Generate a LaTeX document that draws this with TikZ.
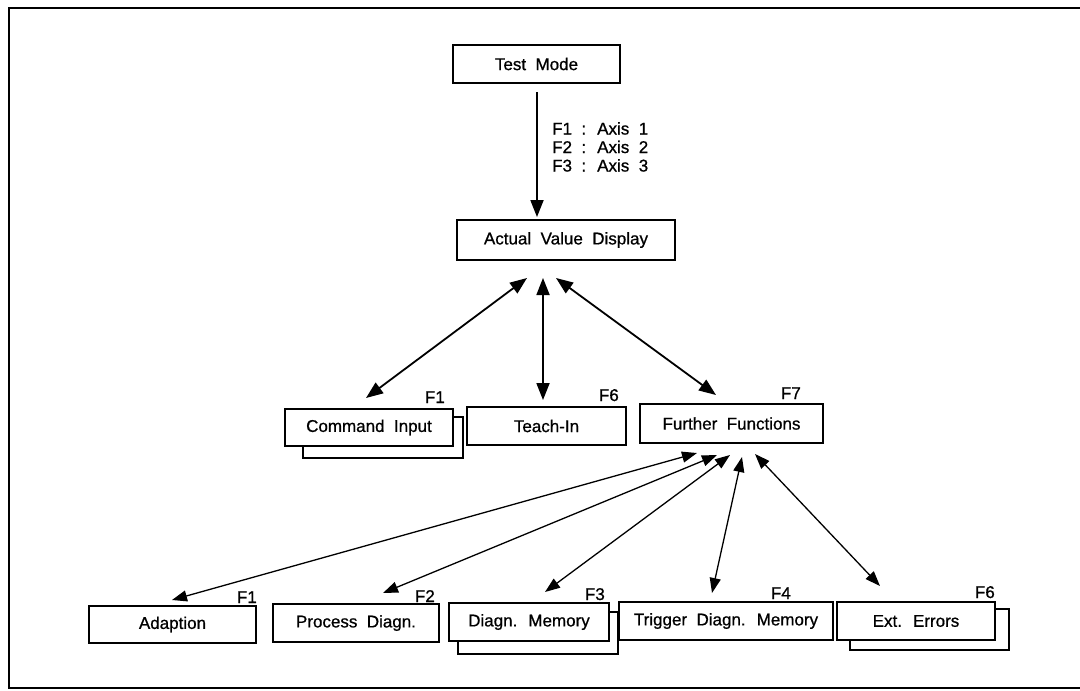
\documentclass[tikz,border=0pt]{standalone}
\usepackage{fontspec}
\setmainfont[WordSpace=2,FakeBold=0.8]{Liberation Sans}
\usetikzlibrary{arrows.meta}
\begin{document}
\begin{tikzpicture}[x=1pt,y=-1pt,
  txt/.style={font=\fontsize{17}{18.5}\selectfont},
  box/.style={txt,draw,line width=1.7pt,inner sep=0pt},
  fk/.style={txt,anchor=base east,inner sep=0pt},
  shad/.style={draw,line width=1.7pt,line join=miter},
  big/.style={line width=1.8pt,{Triangle[length=17pt,width=13pt]}-{Triangle[length=17pt,width=13pt]}},
  one/.style={line width=1.8pt,-{Triangle[length=17pt,width=13pt]}},
  small/.style={line width=1.3pt,{Triangle[length=15pt,width=11pt]}-{Triangle[length=15pt,width=11pt]}}]
\useasboundingbox (0,0) rectangle (1080,691);
\draw[line width=2.2pt] (1085,8) -- (9,8) -- (9,688) -- (1085,688);

% boxes
\node[box,minimum width=167pt,minimum height=38pt] (tm) at (536.5,64) {Test Mode};
\node[box,minimum width=218pt,minimum height=40pt] (avd) at (566,240) {Actual Value Display};
\node[box,minimum width=168pt,minimum height=37pt] (ci) at (369,427.5) {Command Input};
\node[box,minimum width=159pt,minimum height=38pt] (ti) at (546.5,426) {Teach-In};
\node[box,minimum width=183pt,minimum height=39pt] (ff) at (731.5,423.5) {Further Functions};
\node[box,minimum width=167pt,minimum height=37pt] (ad) at (172.5,624.5) {Adaption};
\node[box,minimum width=166pt,minimum height=38pt] (pd) at (356,623) {Process Diagn.};
\node[box,minimum width=160pt,minimum height=38pt] (dm) at (529,622) {Diagn. Memory};
\node[box,minimum width=214pt,minimum height=38pt] (tdm) at (726,621) {Trigger Diagn. Memory};
\node[box,minimum width=158pt,minimum height=38pt] (ee) at (916,621) {Ext. Errors};

% shadows
\draw[shad] ([yshift=-9pt]ci.north east) -| ([xshift=9pt,yshift=-11pt]ci.south east) -| ([xshift=19pt]ci.south west);
\draw[shad] ([yshift=-10pt]dm.north east) -| ([xshift=8pt,yshift=-12pt]dm.south east) -| ([xshift=10pt]dm.south west);
\draw[shad] ([yshift=-8pt]ee.north east) -| ([xshift=13pt,yshift=-9pt]ee.south east) -| ([xshift=14pt]ee.south west);

% function key labels
\node[fk] (kci) at (445,403) {F1};
\node[fk] (kti) at (619,401) {F6};
\node[fk] (kff) at (801,399) {F7};
\node[fk] (kad) at (257,603) {F1};
\node[fk] (kpd) at (435,602) {F2};
\node[fk] (kdm) at (605,600) {F3};
\node[fk] (ktdm) at (791,599) {F4};
\node[fk] (kee) at (995,598) {F6};

% axis label
\node[txt,anchor=north west,align=left,inner sep=0pt] (ax) at (552,122)
  {F1 : Axis 1\\F2 : Axis 2\\F3 : Axis 3};

% arrow ends
\coordinate (tm-o) at (537,92);
\coordinate (avd-i) at (537,217);
\coordinate (avd-ci) at (527,278);
\coordinate (ci-i) at (366,398);
\coordinate (avd-ti) at (543,278);
\coordinate (ti-i) at (543,400);
\coordinate (avd-ff) at (556,278);
\coordinate (ff-i) at (716,395);
\coordinate (ff-ad) at (697,453);
\coordinate (ad-i) at (172,600);
\coordinate (ff-pd) at (717,455);
\coordinate (pd-i) at (383,593);
\coordinate (ff-dm) at (730,455);
\coordinate (dm-i) at (545,592);
\coordinate (ff-tdm) at (742,457);
\coordinate (tdm-i) at (712,593);
\coordinate (ff-ee) at (755,454);
\coordinate (ee-i) at (880,586);

\draw[one] (tm-o) -- (avd-i);
\draw[big] (avd-ci) -- (ci-i);
\draw[big] (avd-ti) -- (ti-i);
\draw[big] (avd-ff) -- (ff-i);
\draw[small] (ff-ad) -- (ad-i);
\draw[small] (ff-pd) -- (pd-i);
\draw[small] (ff-dm) -- (dm-i);
\draw[small] (ff-tdm) -- (tdm-i);
\draw[small] (ff-ee) -- (ee-i);
\end{tikzpicture}
\end{document}
